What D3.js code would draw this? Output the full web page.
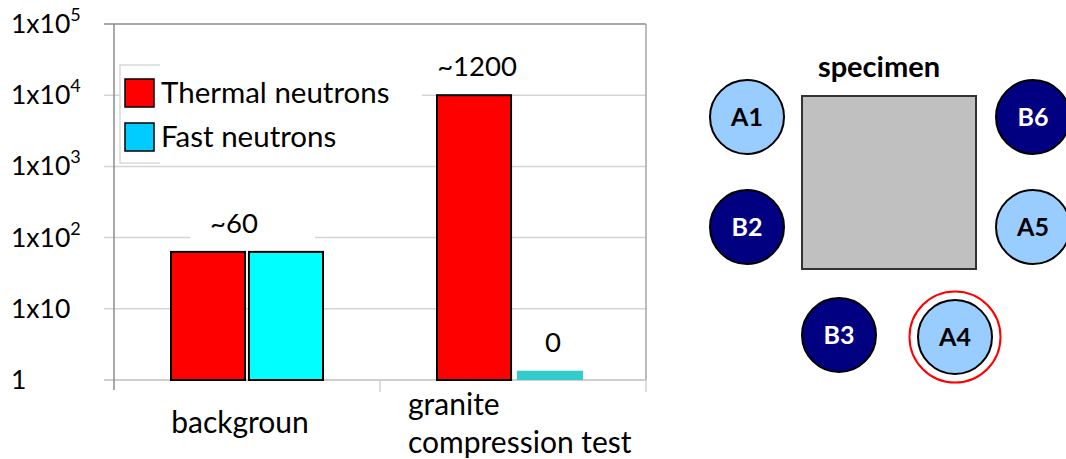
<!DOCTYPE html>
<html>
<head>
<meta charset="utf-8">
<script src="https://cdn.jsdelivr.net/npm/d3@7"></script>
<style>
  body { margin: 0; background: #fff; }
  svg { display: block; font-family: Lato, "Open Sans", sans-serif; }
</style>
</head>
<body>
<div id="chart"></div>
<script>
// 데이터
const categories = ["backgroun", "granite compression test"];
const series = ["Thermal neutrons", "Fast neutrons"];
const thermalValues = [63, 10000];
const fastValues = [63, 1.35];
const valueLabels = ["~60", "~1200", "0"];
const yTicks = [1, 10, 100, 1000, 10000, 100000];
const tickExponents = ["", "", "2", "3", "4", "5"];

// 시료 주변 검출기
const detectorNames = ["A1", "B6", "B2", "A5", "B3", "A4"];
const detectorTypes = ["A", "B", "B", "A", "B", "A"];
const detectorCols = [0, 3, 0, 3, 1, 2];
const detectorRows = [0, 0, 1, 1, 2, 2];
const highlighted = ["A4"];

const W = 1066, H = 459;
const svg = d3.select("#chart").append("svg").attr("width", W).attr("height", H);

const pLeft = 114, pRight = 646, pTop = 24, pBottom = 380;

const y = d3.scaleLog().domain([1, 100000]).range([pBottom, pTop]);
const x0 = d3.scaleBand().domain(categories).range([pLeft, pRight]).padding(0);
const x1 = d3.scaleBand().domain(series).range([57, 209]).paddingInner(0.05);

// 격자선
svg.append("g").selectAll("line")
  .data(yTicks.slice(1, -1))
  .enter().append("line")
  .attr("x1", pLeft - 10).attr("x2", pRight)
  .attr("y1", d => y(d)).attr("y2", d => y(d))
  .attr("stroke", "#d4d4d4").attr("stroke-width", 1.5);

// 테두리 (위, 오른쪽)
svg.append("line").attr("x1", pLeft - 10).attr("x2", pRight).attr("y1", y(100000)).attr("y2", y(100000))
  .attr("stroke", "#8c8c8c").attr("stroke-width", 1.5);
svg.append("line").attr("x1", pRight).attr("x2", pRight).attr("y1", pTop).attr("y2", pBottom)
  .attr("stroke", "#a6a6a6").attr("stroke-width", 1.5);

// 축
svg.append("line").attr("x1", pLeft - 10).attr("x2", pRight).attr("y1", pBottom).attr("y2", pBottom)
  .attr("stroke", "#bfbfbf").attr("stroke-width", 1.5);
svg.append("line").attr("x1", pLeft).attr("x2", pLeft).attr("y1", pTop).attr("y2", pBottom + 10)
  .attr("stroke", "#8c8c8c").attr("stroke-width", 1.5);
svg.append("g").selectAll("line")
  .data(categories.map(c => x0(c) + x0.bandwidth()))
  .enter().append("line")
  .attr("x1", d => d).attr("x2", d => d)
  .attr("y1", pBottom).attr("y2", pBottom + 12)
  .attr("stroke", "#d0d0d0").attr("stroke-width", 1.5);

// y축 라벨
const yLab = svg.append("g").selectAll("text")
  .data(yTicks)
  .enter().append("text")
  .attr("x", 11)
  .attr("y", d => y(d) + 9)
  .attr("font-size", 26.5)
  .attr("fill", "#000");
yLab.append("tspan").text((d, i) => d === 1 ? "1" : "1x10");
yLab.append("tspan")
  .attr("dy", -12)
  .attr("font-size", 18)
  .text((d, i) => tickExponents[i]);

// 범례
svg.append("rect").attr("x", 120).attr("y", 65).attr("width", 300).attr("height", 98)
  .attr("fill", "#fff").attr("stroke", "#d9d9d9").attr("stroke-width", 1.5);
svg.append("rect").attr("x", 160).attr("y", 53).attr("width", 262).attr("height", 111).attr("fill", "#fff");

const legendColors = ["#FF0000", "#00CCFF"];
const legendY = d3.scalePoint().domain(series).range([79, 123]);
svg.append("g").selectAll("rect")
  .data(series)
  .enter().append("rect")
  .attr("x", 125).attr("y", d => legendY(d))
  .attr("width", 29).attr("height", 28)
  .attr("fill", (d, i) => legendColors[i])
  .attr("stroke", "#000").attr("stroke-width", 1.5);
svg.append("g").selectAll("text")
  .data(series)
  .enter().append("text")
  .attr("x", 161).attr("y", d => legendY(d) + 24)
  .attr("font-size", 29.5)
  .text(d => d);

// 값 라벨 배경
const labelBoxes = [
  { x: x0(categories[0]) + 76, y: 195, w: 125, h: 52 },
  { x: x0(categories[1]) + 44, y: 30, w: 131, h: 55 },
  { x: x0(categories[1]) + x1(series[1]) + 10, y: 310, w: 77, h: 55 }
];
svg.append("g").selectAll("rect")
  .data(labelBoxes)
  .enter().append("rect")
  .attr("x", d => d.x).attr("y", d => d.y).attr("width", d => d.w).attr("height", d => d.h)
  .attr("fill", "#fff");

// 막대
const barColors = [["#FF0000", "#FF0000"], ["#00FFFF", "#33CCCC"]];
const barStroke = [["#000", "#000"], ["#000", "none"]];
const rows = categories.map((c, i) => ({ cat: c, vals: [thermalValues[i], fastValues[i]] }));

const grp = svg.append("g").selectAll("g")
  .data(rows)
  .enter().append("g")
  .attr("transform", d => `translate(${x0(d.cat)},0)`);

grp.selectAll("rect")
  .data((d, ci) => d.vals.map((v, si) => ({ v, si, ci })))
  .enter().append("rect")
  .attr("x", d => x1(series[d.si]) + (barStroke[d.si][d.ci] === "none" ? 2 : 0))
  .attr("y", d => y(d.v))
  .attr("width", d => x1.bandwidth() - (barStroke[d.si][d.ci] === "none" ? 8 : 0))
  .attr("height", d => pBottom - y(d.v))
  .attr("fill", d => barColors[d.si][d.ci])
  .attr("stroke", d => barStroke[d.si][d.ci])
  .attr("stroke-width", 2);

// 값 라벨
const labelPos = [
  { x: x0(categories[0]) + 120, v: thermalValues[0] },
  { x: x0(categories[1]) + x1(series[0]) + x1.bandwidth() / 2 + 3, v: thermalValues[1] },
  { x: x0(categories[1]) + x1(series[1]) + x1.bandwidth() / 2 + 1, v: fastValues[1] }
];
svg.append("g").selectAll("text")
  .data(labelPos)
  .enter().append("text")
  .attr("x", d => d.x)
  .attr("y", d => y(d.v) - 19)
  .attr("text-anchor", "middle")
  .attr("font-size", 27.5)
  .text((d, i) => valueLabels[i]);

// x축 라벨
svg.append("text")
  .attr("x", x0(categories[0]) + x0.bandwidth() / 2 - 7)
  .attr("y", 433)
  .attr("text-anchor", "middle")
  .attr("font-size", 30)
  .text(categories[0]);
const words = categories[1].split(" ");
const t2 = svg.append("text")
  .attr("x", x0(categories[1]) + 28)
  .attr("y", 415)
  .attr("font-size", 30);
t2.append("tspan").text(words[0]);
t2.append("tspan").attr("x", x0(categories[1]) + 28).attr("dy", 38).text(words.slice(1).join(" "));

// 오른쪽 도식
const dx = d3.scalePoint().domain([0, 1, 2, 3]).range([747, 1033]);
const dy = d3.scalePoint().domain([0, 1, 2]).range([117, 337]);
const dColors = { A: "#99CCFF", B: "#000080" };
const dText = { A: "#000", B: "#fff" };

svg.append("text")
  .attr("x", 879).attr("y", 77)
  .attr("text-anchor", "middle")
  .attr("font-size", 29).attr("font-weight", "bold")
  .text("specimen");

svg.append("rect")
  .attr("x", 802).attr("y", 96).attr("width", 174).attr("height", 173)
  .attr("fill", "#C0C0C0").attr("stroke", "#333").attr("stroke-width", 2);

const det = svg.append("g").selectAll("g")
  .data(detectorNames)
  .enter().append("g")
  .attr("transform", (d, i) => {
    const cx = detectorCols[i] === 1 ? 839 : detectorCols[i] === 2 ? 955 : dx(detectorCols[i]);
    return `translate(${cx},${dy(detectorRows[i]) - (detectorRows[i] === 2 && detectorCols[i] === 1 ? 2 : 0)})`;
  });

det.filter(d => highlighted.includes(d))
  .append("circle").attr("r", 45.5)
  .attr("fill", "none").attr("stroke", "#FF0000").attr("stroke-width", 2);

det.append("circle")
  .attr("r", 37)
  .attr("fill", (d, i) => dColors[detectorTypes[i]])
  .attr("stroke", "#000").attr("stroke-width", 2);

det.append("text")
  .attr("text-anchor", "middle")
  .attr("y", 8.5)
  .attr("font-size", 25).attr("font-weight", "bold")
  .attr("fill", (d, i) => dText[detectorTypes[i]])
  .text(d => d);
</script>
</body>
</html>
